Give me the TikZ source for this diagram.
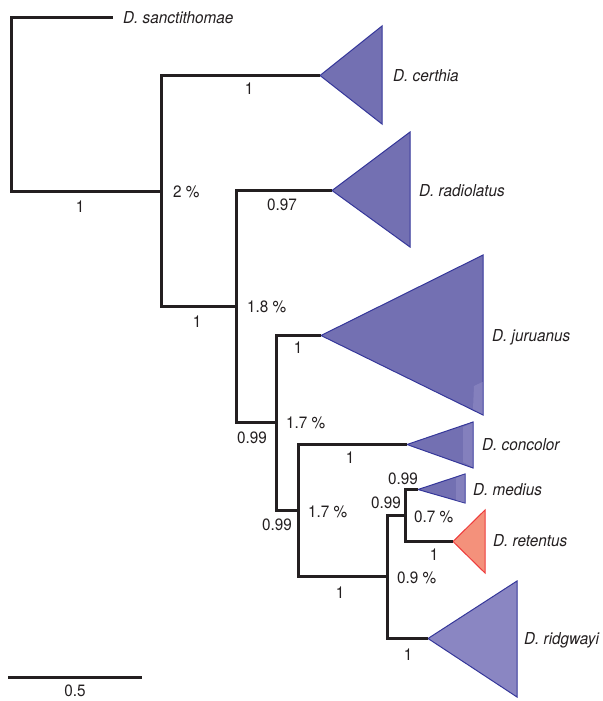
\documentclass[tikz,border=0pt]{standalone}
\usepackage{fontspec}
\setmainfont{TeX Gyre Heros}[FakeStretch=0.93]
\definecolor{branch}{HTML}{231F20}
\definecolor{cladefill}{HTML}{7370B2}
\definecolor{cladeedge}{HTML}{35379A}
\definecolor{cladelight}{HTML}{8A86C2}
\definecolor{retfill}{HTML}{F4917B}
\definecolor{retedge}{HTML}{EE3A3A}
\tikzset{
  branchline/.style={line width=2.8bp, draw=branch, line join=miter},
  spname/.style={font=\fontsize{16.5}{19}\selectfont\itshape, anchor=base west, inner sep=0pt, text=branch},
  supp/.style={font=\fontsize{16.5}{19}\selectfont, anchor=base, inner sep=0pt, text=branch},
  pct/.style={supp, anchor=base west},
  clade/.style={fill=cladefill, draw=cladeedge, line width=1bp, line join=miter},
  cladepale/.style={fill=cladelight, draw=cladeedge, line width=1bp, line join=miter},
  cladered/.style={fill=retfill, draw=retedge, line width=1bp, line join=miter},
  streak/.style={fill=cladelight, opacity=0.75}
}
\begin{document}
\begin{tikzpicture}[x=1bp,y=-1bp]
\useasboundingbox (0,0) rectangle (603,701);
% internal nodes (x of vertical line, y where parent's branch attaches)
\coordinate (root) at (11.5,100.5);
\coordinate (n2) at (161.5,191.5);
\coordinate (n3) at (236.5,306.5);
\coordinate (n4) at (276.5,422.5);
\coordinate (n5) at (298.5,510.5);
\coordinate (n6) at (387.5,576.5);
\coordinate (n7) at (405.5,515.5);
% tips
\coordinate (tsan) at (113,17.5);
\coordinate (tcer) at (320,75.5);
\coordinate (trad) at (332,190.5);
\coordinate (tjur) at (321,335.5);
\coordinate (tcon) at (407,444.5);
\coordinate (tmed) at (418,489.5);
\coordinate (tret) at (453,541.5);
\coordinate (trid) at (428,638.5);
% triangle base corners
\coordinate (cerA) at (382,26);   \coordinate (cerB) at (382,124);
\coordinate (radA) at (410,132);  \coordinate (radB) at (410,247);
\coordinate (jurA) at (483,255);  \coordinate (jurB) at (483,415);
\coordinate (conA) at (473,422);  \coordinate (conB) at (473,468);
\coordinate (medA) at (465,474);  \coordinate (medB) at (465,503);
\coordinate (retA) at (485,510);  \coordinate (retB) at (485,573);
\coordinate (ridA) at (517,581);  \coordinate (ridB) at (517,697);

% clades
\path[clade] (tcer) -- (cerA) -- (cerB) -- cycle;
\path[clade] (trad) -- (radA) -- (radB) -- cycle;
\path[clade] (tjur) -- (jurA) -- (jurB) -- cycle;
\fill[streak] (474,386) -- (482.5,382) -- (482.5,414) -- (473,409) -- cycle;
\path[clade] (tcon) -- (conA) -- (conB) -- cycle;
\fill[streak] (463,427) -- (472.5,423) -- (472.5,467) -- (463,462) -- cycle;
\path[clade] (tmed) -- (medA) -- (medB) -- cycle;
\fill[streak] (456,478) -- (464.5,474.5) -- (464.5,502.5) -- (456,500) -- cycle;
\path[cladered] (tret) -- (retA) -- (retB) -- cycle;
\path[cladepale] (trid) -- (ridA) -- (ridB) -- cycle;

% branches
\draw[branchline] (root) |- (tsan);
\draw[branchline] (root) |- (n2);
\draw[branchline] (n2) |- (tcer);
\draw[branchline] (n2) |- (n3);
\draw[branchline] (n3) |- (trad);
\draw[branchline] (n3) |- (n4);
\draw[branchline] (n4) |- (tjur);
\draw[branchline] (n4) |- (n5);
\draw[branchline] (n5) |- (tcon);
\draw[branchline] (n5) |- (n6);
\draw[branchline] (n6) |- (n7);
\draw[branchline] (n6) |- (trid);
\draw[branchline] (n7) |- (tmed);
\draw[branchline] (n7) |- (tret);

% species names
\node[spname] (lsan) at (123,23.5) {D. sanctithomae};
\node[spname] (lcer) at (393,81.5) {D. certhia};
\node[spname] (lrad) at (419,196.5) {D. radiolatus};
\node[spname] (ljur) at (492,341) {D. juruanus};
\node[spname] (lcon) at (482,450) {D. concolor};
\node[spname] (lmed) at (473,495) {D. medius};
\node[spname] (lret) at (493,546.5) {D. retentus};
\node[spname] (lrid) at (524,644.5) {D. ridgwayi};

% support values
\node[supp] (s1) at (80,212) {1};
\node[supp] (s2) at (249,95) {1};
\node[pct]  (p1) at (173,197) {2 \%};
\node[supp] (s3) at (282,210) {0.97};
\node[supp] (s4) at (197,327) {1};
\node[pct]  (p2) at (247,312) {1.8 \%};
\node[supp] (s5) at (298,353) {1};
\node[supp] (s6) at (252,443) {0.99};
\node[pct]  (p3) at (286,428) {1.7 \%};
\node[supp] (s7) at (350,463) {1};
\node[supp] (s8) at (277,530) {0.99};
\node[pct]  (p4) at (308,517) {1.7 \%};
\node[supp] (s9) at (403,484) {0.99};
\node[supp] (s10) at (386,508) {0.99};
\node[pct]  (p5) at (414,522) {0.7 \%};
\node[supp] (s11) at (434,560) {1};
\node[supp] (s12) at (340,598) {1};
\node[pct]  (p6) at (397,583) {0.9 \%};
\node[supp] (s13) at (408,660) {1};

% scale bar
\coordinate (sbL) at (8,677.5);
\coordinate (sbR) at (142,677.5);
\draw[branchline] (sbL) -- (sbR);
\node[supp] (sbl) at (75,696.5) {0.5};
\end{tikzpicture}
\end{document}
